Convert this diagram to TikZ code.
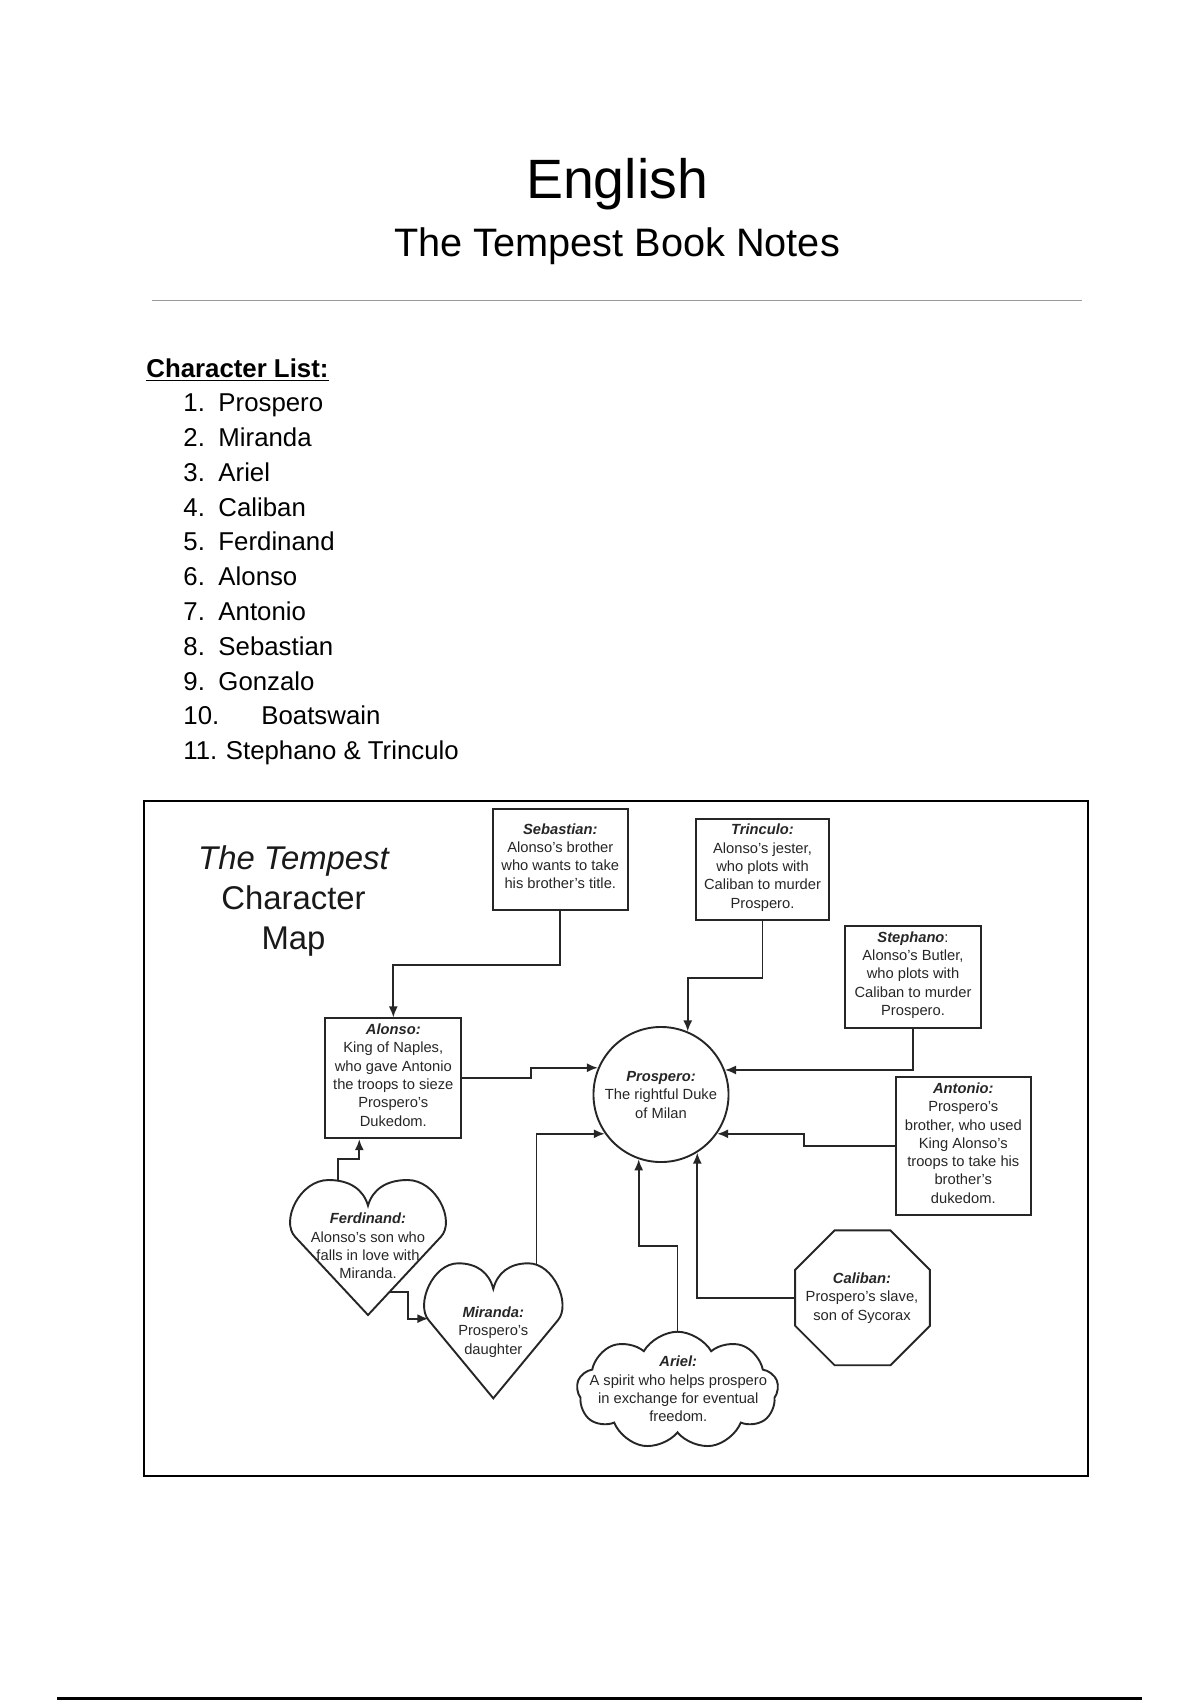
\documentclass[tikz,border=0pt]{standalone}
\usepackage{fontspec}
\setmainfont{Liberation Sans}
\usetikzlibrary{arrows.meta,shapes.geometric,shapes.symbols}

\newcommand{\notefont}{\fontsize{7.3}{9.08}\selectfont}
\newcommand{\listfont}{\fontsize{12.8}{15}\selectfont}
\newcommand{\topstrut}{\rule{0pt}{8pt}}
\newcommand{\botstrut}{\rule[-6pt]{0pt}{6pt}}
\newcommand{\who}[1]{\topstrut\textbf{\textit{#1}}}

\tikzset{
  note/.style={align=center, font=\notefont, text=black!85, inner sep=0pt},
  notebox/.style={note, draw=black!85, line width=0.95pt},
  item/.style={anchor=base west, font=\listfont, inner sep=0pt},
  arr/.style={-{Latex[length=5.5pt,width=4.5pt]}, line width=0.95pt, draw=black!85},
  pics/heartshape/.style 2 args={code={
    \draw[line width=0.95pt, draw=black!85] (0,#2) -- (-0.48*#1,0.42*#2)
      .. controls (-0.576*#1,0.304*#2) and (-0.45*#1,0) .. (-0.26*#1,0)
      .. controls (-0.12*#1,0) and (-0.03*#1,0.07*#2) .. (0,0.19*#2)
      .. controls (0.03*#1,0.07*#2) and (0.12*#1,0) .. (0.26*#1,0)
      .. controls (0.45*#1,0) and (0.576*#1,0.304*#2) .. (0.48*#1,0.42*#2) -- cycle;
    \coordinate (-lobeL) at (-0.2*#1,0.01*#2);
    \coordinate (-lobeR) at (0.32*#1,0.01*#2);
    \coordinate (-outR) at (0.14*#1,0.827*#2);
    \coordinate (-inL) at (-0.48*#1,0.41*#2);
  }}
}

\begin{document}
\begin{tikzpicture}[x=0.4961pt, y=-0.4961pt]
\useasboundingbox (0,0) rectangle (1200,1700);

% page heading
\node[anchor=base, font=\fontsize{27.5}{33}\selectfont] (head) at (617,198.7) {English};
\node[anchor=base, font=\fontsize{19.7}{24}\selectfont] (sub) at (617,256.8) {The Tempest Book Notes};
\draw[black!40, line width=0.5pt] (152,300) -- (1082,300);

% character list
\node[item, font=\listfont\bfseries] (chl) at (146,377.6) {\underline{Character List:}};
\node[item] (li1) at (183,411.7) {\makebox[17.4pt][l]{1.}Prospero};
\node[item] (li2) at (183,446.5) {\makebox[17.4pt][l]{2.}Miranda};
\node[item] (li3) at (183,481.3) {\makebox[17.4pt][l]{3.}Ariel};
\node[item] (li4) at (183,516.1) {\makebox[17.4pt][l]{4.}Caliban};
\node[item] (li5) at (183,550.9) {\makebox[17.4pt][l]{5.}Ferdinand};
\node[item] (li6) at (183,585.7) {\makebox[17.4pt][l]{6.}Alonso};
\node[item] (li7) at (183,620.5) {\makebox[17.4pt][l]{7.}Antonio};
\node[item] (li8) at (183,655.3) {\makebox[17.4pt][l]{8.}Sebastian};
\node[item] (li9) at (183,690.1) {\makebox[17.4pt][l]{9.}Gonzalo};
\node[item] (li10) at (183,724.9) {\makebox[38.7pt][l]{10.}Boatswain};
\node[item] (li11) at (183,759.7) {\makebox[21.1pt][l]{11.}Stephano \& Trinculo};

% character map
\draw[line width=1pt] (144,801) rectangle (1088,1476);
\node[anchor=base, font=\fontsize{16.3}{19.8}\selectfont, text=black!90] (map1) at (293.5,869) {\itshape The Tempest};
\node[anchor=base, font=\fontsize{16.3}{19.8}\selectfont, text=black!90] (map2) at (293.5,909) {Character};
\node[anchor=base, font=\fontsize{16.3}{19.8}\selectfont, text=black!90] (map3) at (293.5,949) {Map};

\node[circle, notebox, minimum size=67pt] (pros) at (661,1094.5) {};
\node[note] (prosnote) at (661,1097.9)
  {\who{Prospero:}\\The rightful Duke\\of Milan\botstrut};
\node[notebox, minimum width=67.1pt, minimum height=50.1pt] (seb) at (560.3,859.5)
  {\who{Sebastian:}\\Alonso's brother\\who wants to take\\his brother's title.\botstrut};
\node[notebox, minimum width=66.3pt, minimum height=50.1pt] (trin) at (762.5,869.5)
  {\who{Trinculo:}\\Alonso's jester,\\who plots with\\Caliban to murder\\Prospero.\botstrut};
\node[notebox, minimum width=67.2pt, minimum height=50.5pt] (steph) at (913,976.9)
  {\who{Stephano}:\\Alonso's Butler,\\who plots with\\Caliban to murder\\Prospero.\botstrut};
\node[notebox, minimum width=67.5pt, minimum height=58.9pt] (alon) at (393.3,1078.3)
  {\who{Alonso:}\\King of Naples,\\who gave Antonio\\the troops to sieze\\Prospero's\\Dukedom.\botstrut};
\node[notebox, minimum width=67.1pt, minimum height=67.5pt] (anton) at (963.3,1146.3)
  {\who{Antonio:}\\Prospero's\\brother, who used\\King Alonso's\\troops to take his\\brother's\\dukedom.\botstrut};
\node[regular polygon, regular polygon sides=8, notebox, minimum size=72.4pt] (cal) at (862.5,1297.8) {};
\node[note] (calnote) at (862,1299.7)
  {\who{Caliban:}\\Prospero's slave,\\son of Sycorax\botstrut};

\node[cloud, cloud puffs=9, cloud puff arc=120, cloud ignores aspect, draw=black!85, line width=0.95pt,
  minimum width=100pt, minimum height=58.3pt, inner sep=0pt] (ariel) at (677.5,1390.5) {};
\node[note] (arielnote) at (678.3,1392.2)
  {\who{Ariel:}\\A spirit who helps prospero\\in exchange for eventual\\freedom.\botstrut};

\pic (ferdH) at (368,1180) {heartshape={152}{135}};
\node[note] (ferdnote) at (368,1249.2)
  {\who{Ferdinand:}\\Alonso's son who\\falls in love with\\Miranda.\botstrut};
\pic (mirH) at (493.3,1263.3) {heartshape={135}{135}};
\node[note] (mirnote) at (493.3,1333.7)
  {\who{Miranda:}\\Prospero's\\daughter\botstrut};

% connectors
\draw[arr] (seb.south) -- ++(0,54) -| (alon.north);
\draw[arr] (alon.east) -- ++(69,0) |- (pros.157);
\draw[arr] (ferdH-lobeL) -- ++(0,-22) -| ([shift={(-34,0)}]alon.south);
\draw[arr] (ferdH-outR) -- ++(19,0) |- (mirH-inL);
\draw[arr] (mirH-lobeR) |- (pros.215);
\draw[arr] (trin.south) -- ++(0,56.7) -| (pros.67);
\draw[arr] (steph.south) |- (pros.21);
\draw[arr] (anton.west) -- ++(-91,0) |- (pros.-35);
\draw[arr] (cal.west) -| (pros.-58);
\draw[arr] (ariel.north) -- ++(0,-85) -| (pros.251);

\draw[line width=1.2pt] (57,1698.5) -- (1142,1698.5);
\end{tikzpicture}
\end{document}
